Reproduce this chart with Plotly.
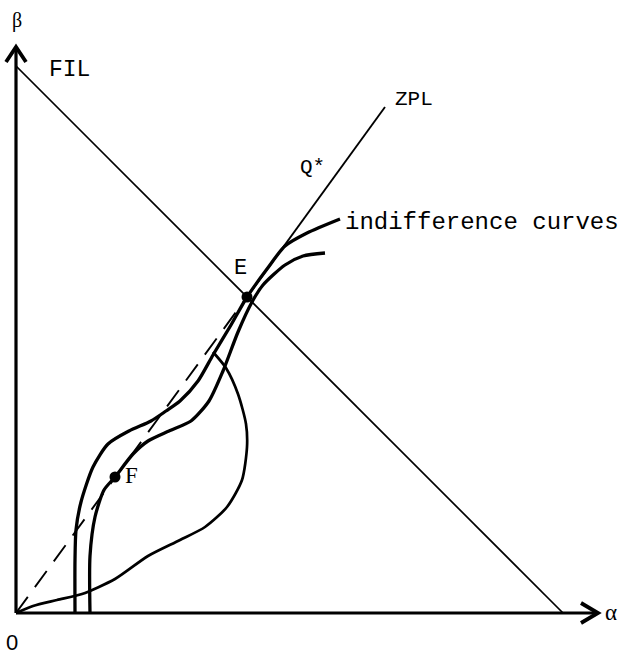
import plotly.graph_objects as go

# Axis extents (alpha to the right, beta upward)
alpha_axis_end = 582
beta_axis_end = 566

# Full-information line (FIL): alpha + beta = const
fil_alpha = [0, 547]
fil_beta = [547, 0]

# Zero-profit line (ZPL) through the origin and E
zpl_dash_alpha = [0, 231]
zpl_dash_beta = [0, 316]
zpl_solid_alpha = [231, 369]
zpl_solid_beta = [316, 506]

# Outer indifference curve (passes through E)
ic1_alpha = [59, 59, 60, 65, 77, 92, 113, 135, 150, 164, 182, 197, 215, 231,
             251, 269, 291, 324]
ic1_beta = [0, 53, 83, 111, 146, 169, 182, 192, 202, 212, 232, 258, 288, 316,
            344, 367, 380, 394]

# Inner indifference curve (passes through F)
ic2_alpha = [74, 74, 79, 88, 99, 117, 132, 153, 175, 193, 207, 222, 236, 247,
             269, 287, 309]
ic2_beta = [0, 57, 96, 123, 136, 159, 172, 182, 192, 212, 242, 281, 311, 328,
            348, 357, 360]

# Bulging curve from the origin back to the outer curve
bulge_alpha = [0, 17, 41, 66, 99, 132, 164, 189, 211, 226, 231, 230, 222, 210, 197]
bulge_beta = [0, 7, 13, 19, 34, 57, 73, 86, 106, 133, 166, 189, 219, 245, 261]

# Labelled points
pt_E = (231, 316)
pt_F = (99, 136)

fig = go.Figure()

ink = "black"

# axes with open arrowheads
fig.add_trace(go.Scatter(x=[0, 0], y=[0, beta_axis_end], mode="lines",
                         line=dict(color=ink, width=3.2)))
fig.add_trace(go.Scatter(x=[0, alpha_axis_end], y=[0, 0], mode="lines",
                         line=dict(color=ink, width=3.2)))
head_w, head_l = 10, 15
fig.add_trace(go.Scatter(
    x=[-head_w, 0, head_w], y=[beta_axis_end - head_l, beta_axis_end, beta_axis_end - head_l],
    mode="lines", line=dict(color=ink, width=3.8)))
fig.add_trace(go.Scatter(
    x=[alpha_axis_end - head_l - 2, alpha_axis_end, alpha_axis_end - head_l - 2],
    y=[head_w, 0, -head_w], mode="lines", line=dict(color=ink, width=3.8)))

# FIL and ZPL
fig.add_trace(go.Scatter(x=fil_alpha, y=fil_beta, mode="lines",
                         line=dict(color=ink, width=1.7)))
fig.add_trace(go.Scatter(x=zpl_dash_alpha, y=zpl_dash_beta, mode="lines",
                         line=dict(color=ink, width=1.9, dash="20px,12px")))
fig.add_trace(go.Scatter(x=zpl_solid_alpha, y=zpl_solid_beta, mode="lines",
                         line=dict(color=ink, width=1.9)))

# curves
for xs, ys, w in [(ic1_alpha, ic1_beta, 3.3), (ic2_alpha, ic2_beta, 3.3),
                  (bulge_alpha, bulge_beta, 2.7)]:
    fig.add_trace(go.Scatter(x=xs, y=ys, mode="lines",
                             line=dict(color=ink, width=w, shape="spline", smoothing=0.7)))

# points E and F
fig.add_trace(go.Scatter(x=[pt_E[0], pt_F[0]], y=[pt_E[1], pt_F[1]], mode="markers",
                         marker=dict(color=ink, size=11)))

mono = "Liberation Mono, Courier New, monospace"
serif = "Liberation Serif, DejaVu Serif, serif"
labels = [
    ("β", 1, 593, 20, serif, "center"),
    ("FIL", 53, 543, 23, mono, "center"),
    ("ZPL", 398, 514, 21, mono, "center"),
    ("Q*", 296, 446, 21, mono, "center"),
    ("indifference curves", 327, 391, 24, mono, "left"),
    ("E", 224, 345, 22, mono, "center"),
    ("F", 107, 138, 23, serif, "left"),
    ("0", -4, -29, 22, "Liberation Sans, Arial, sans-serif", "center"),
    ("α", 587, 1, 23, serif, "left"),
]
for txt, x, y, size, fam, anchor in labels:
    fig.add_annotation(x=x, y=y, text=txt, showarrow=False,
                       font=dict(family=fam, size=size, color=ink),
                       xanchor=anchor, yanchor="middle")

fig.update_layout(
    width=631, height=655,
    margin=dict(l=0, r=0, t=0, b=0),
    paper_bgcolor="white", plot_bgcolor="white",
    showlegend=False,
    xaxis=dict(range=[-16, 615], visible=False, fixedrange=True),
    yaxis=dict(range=[-42, 613], visible=False, fixedrange=True),
)

fig.write_html("out.html")
